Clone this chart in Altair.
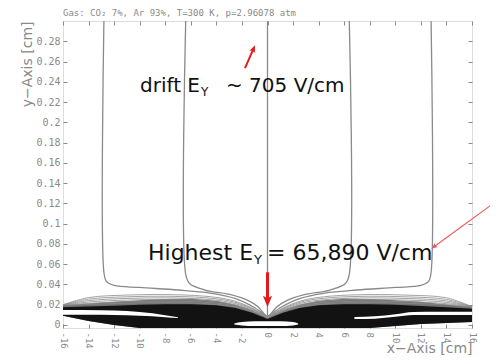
import altair as alt
import pandas as pd

# ---------------- axes ----------------
x_ticks = [-16, -14, -12, -10, -8, -6, -4, -2, 0, 2, 4, 6, 8, 10, 12, 14, 16]
y_ticks = [0, 0.02, 0.04, 0.06, 0.08, 0.10, 0.12, 0.14, 0.16, 0.18, 0.20,
           0.22, 0.24, 0.26, 0.28]
x_domain = [-16, 16]
y_domain = [-0.003, 0.30]

# ---------------- drift field lines ----------------
drift_a_x = [-12.8, -12.8, -12.6, -12.0, -10.0, -7.0, -4.5, -2.5, -1.0, 0.0]
drift_a_y = [0.300, 0.052, 0.043, 0.039, 0.037, 0.0345, 0.0315, 0.026, 0.017, 0.008]
drift_b_x = [-6.4, -6.4, -6.1, -4.9, -2.8, -1.5, -0.74, -0.2, 0.0]
drift_b_y = [0.300, 0.050, 0.041, 0.0345, 0.0296, 0.024, 0.018, 0.010, 0.008]
drift_c_x = [0.0, 0.0]
drift_c_y = [0.300, 0.008]
drift_d_x = [6.4, 6.4, 6.1, 4.9, 2.8, 1.5, 0.74, 0.2, 0.0]
drift_d_y = [0.300, 0.050, 0.041, 0.0345, 0.0296, 0.024, 0.018, 0.010, 0.008]
drift_e_x = [12.8, 12.8, 12.6, 12.0, 10.0, 7.0, 4.5, 2.5, 1.0, 0.0]
drift_e_y = [0.300, 0.052, 0.043, 0.039, 0.037, 0.0345, 0.0315, 0.026, 0.017, 0.008]

# ---------------- fan of field lines near the strips ----------------
fan_left_x = [-16, -14, -11, -8, -5, -3, -1.5, -0.5, 0]
fan_left_1 = [0.0200, 0.0270, 0.0295, 0.0300, 0.0285, 0.0250, 0.0185, 0.0118, 0.008]
fan_left_2 = [0.0199, 0.0255, 0.0278, 0.0283, 0.0270, 0.0238, 0.0177, 0.0114, 0.008]
fan_left_3 = [0.0198, 0.0240, 0.0262, 0.0267, 0.0255, 0.0225, 0.0169, 0.0110, 0.008]
fan_left_4 = [0.0197, 0.0226, 0.0246, 0.0251, 0.0240, 0.0212, 0.0160, 0.0106, 0.008]
fan_left_5 = [0.0196, 0.0213, 0.0230, 0.0235, 0.0225, 0.0200, 0.0152, 0.0102, 0.008]
fan_left_6 = [0.0195, 0.0202, 0.0215, 0.0220, 0.0212, 0.0188, 0.0144, 0.0098, 0.008]
fan_right_x = [16, 14, 11, 8, 5, 3, 1.5, 0.5, 0]
fan_right_1 = [0.0180, 0.0268, 0.0294, 0.0300, 0.0285, 0.0250, 0.0185, 0.0118, 0.008]
fan_right_2 = [0.0179, 0.0252, 0.0277, 0.0283, 0.0270, 0.0238, 0.0177, 0.0114, 0.008]
fan_right_3 = [0.0178, 0.0237, 0.0261, 0.0267, 0.0255, 0.0225, 0.0169, 0.0110, 0.008]
fan_right_4 = [0.0178, 0.0223, 0.0245, 0.0251, 0.0240, 0.0212, 0.0160, 0.0106, 0.008]
fan_right_5 = [0.0177, 0.0210, 0.0229, 0.0235, 0.0225, 0.0200, 0.0152, 0.0102, 0.008]
fan_right_6 = [0.0177, 0.0199, 0.0214, 0.0220, 0.0212, 0.0188, 0.0144, 0.0098, 0.008]

# ---------------- dense (dark) line region ----------------
band_x = [-16, -14, -12, -10, -8, -6, -4, -2.5, -1.2, 0, 1.2, 2.5, 4, 6, 8, 10, 12, 14, 16]
mid_top = [0.0195, 0.0212, 0.0230, 0.0245, 0.0255, 0.0258, 0.0240, 0.0200, 0.0145, 0.0070,
           0.0145, 0.0200, 0.0240, 0.0258, 0.0255, 0.0245, 0.0228, 0.0202, 0.0178]
dark_top = [0.0175, 0.0182, 0.0190, 0.0200, 0.0205, 0.0205, 0.0195, 0.0168, 0.0120, 0.0060,
            0.0120, 0.0168, 0.0195, 0.0205, 0.0205, 0.0200, 0.0188, 0.0175, 0.0160]
dark_bottom = [0.0092, 0.0040, 0.0000, -0.003, -0.003, -0.003, -0.003, -0.003, -0.003, -0.003,
               -0.003, -0.003, -0.003, -0.003, -0.003, -0.001, 0.0010, 0.0020, 0.0030]

# white gaps inside the dark region
gap_left_x = [-16, -13, -11, -9, -8, -7]
gap_left_top = [0.0148, 0.0146, 0.0138, 0.0115, 0.0095, 0.0075]
gap_left_bottom = [0.0102, 0.0100, 0.0095, 0.0085, 0.0075, 0.0068]
gap_right_x = [6.8, 8.4, 10, 11.4, 13.5, 16]
gap_right_top = [0.0079, 0.0085, 0.0105, 0.0128, 0.0131, 0.0131]
gap_right_bottom = [0.0060, 0.0062, 0.0080, 0.0098, 0.0099, 0.0099]
strip_x = [-2.6, -2.0, -1.0, 0.0, 1.0, 2.0, 2.4]
strip_top = [0.0015, 0.0030, 0.0036, 0.0037, 0.0036, 0.0030, 0.0015]
strip_bottom = [0.0005, -0.0005, -0.0010, -0.0010, -0.0010, -0.0005, 0.0005]

# ---------------- annotations ----------------
arrow_x = [-1.76, 0.0, 18.04]
arrow_y = [0.2535, 0.052, 0.1233]
arrow_x2 = [-1.10, 0.0, 13.03]
arrow_y2 = [0.2725, 0.0237, 0.0772]
arrow_angle = [23.5, 180, 233]
arrow_width = [2.0, 3.0, 1.1]
arrow_head = [60, 150, 45]
arrow_color = ["#e3191c", "#e3191c", "#f0585a"]

label_text = ["drift E", "Y", "~ 705 V/cm", "Highest E", "Y", "= 65,890 V/cm"]
label_x = [-9.977, -5.203, -3.247, -9.35, -1.056, -0.04]
label_y = [0.2298, 0.2258, 0.2298, 0.0641, 0.0602, 0.0641]
label_size = [20, 12, 20, 22, 13, 22]

header_text = ["Gas: CO\u2082 7%, Ar 93%, T=300 K, p=2.96078 atm"]
header_x = [-16.0]
header_y = [0.3049]

# ---------------- tables ----------------
def lines_table(named):
    rows = []
    for name, (xs, ys) in named.items():
        for i, (xv, yv) in enumerate(zip(xs, ys)):
            rows.append({"line": name, "order": i, "x": xv, "y": yv})
    return pd.DataFrame(rows)

drift_df = lines_table({
    "a": (drift_a_x, drift_a_y), "b": (drift_b_x, drift_b_y),
    "c": (drift_c_x, drift_c_y), "d": (drift_d_x, drift_d_y),
    "e": (drift_e_x, drift_e_y)})
fan_df = lines_table({
    "l1": (fan_left_x, fan_left_1), "l2": (fan_left_x, fan_left_2),
    "l3": (fan_left_x, fan_left_3), "l4": (fan_left_x, fan_left_4),
    "l5": (fan_left_x, fan_left_5), "l6": (fan_left_x, fan_left_6),
    "r1": (fan_right_x, fan_right_1), "r2": (fan_right_x, fan_right_2),
    "r3": (fan_right_x, fan_right_3), "r4": (fan_right_x, fan_right_4),
    "r5": (fan_right_x, fan_right_5), "r6": (fan_right_x, fan_right_6)})

mid_df = pd.DataFrame({"x": band_x, "top": mid_top, "bottom": dark_bottom})
dark_df = pd.DataFrame({"x": band_x, "top": dark_top, "bottom": dark_bottom})
gaps_df = pd.concat([
    pd.DataFrame({"g": "left", "x": gap_left_x, "top": gap_left_top, "bottom": gap_left_bottom}),
    pd.DataFrame({"g": "right", "x": gap_right_x, "top": gap_right_top, "bottom": gap_right_bottom}),
    pd.DataFrame({"g": "strip", "x": strip_x, "top": strip_top, "bottom": strip_bottom}),
])
arrows_df = pd.DataFrame({"x": arrow_x, "y": arrow_y, "x2": arrow_x2, "y2": arrow_y2,
                          "angle": arrow_angle, "w": arrow_width, "s": arrow_head,
                          "c": arrow_color})
labels_df = pd.DataFrame({"t": label_text, "x": label_x, "y": label_y, "s": label_size})
header_df = pd.DataFrame({"t": header_text, "x": header_x, "y": header_y})

xs = alt.Scale(domain=x_domain, nice=False, zero=False)
ys = alt.Scale(domain=y_domain, nice=False, zero=False)
GRAY = "#8a8a8a"

def xq(field="x", axis=None):
    return alt.X(f"{field}:Q", scale=xs, axis=axis)

def yq(field="y", axis=None):
    return alt.Y(f"{field}:Q", scale=ys, axis=axis)

bottom_axis = alt.Axis(orient="bottom", values=x_ticks, labelAngle=90,
                       labelExpr="toString(datum.value)",
                       labelFont="DejaVu Sans Mono", labelFontSize=9, labelColor=GRAY,
                       labelPadding=4, tickSize=4, tickColor=GRAY, offset=-4,
                       domain=False, grid=False, title="x\u2212Axis [cm]",
                       titleFont="DejaVu Sans", titleFontSize=14, titleFontWeight="normal",
                       titleColor=GRAY, titleX=409, titleY=28, titleAlign="right",
                       titleBaseline="alphabetic")
left_axis = alt.Axis(orient="left", values=y_ticks, format="~g", labelFont="DejaVu Sans Mono",
                     labelFontSize=10, labelColor=GRAY, labelPadding=3, tickSize=4,
                     tickColor=GRAY, offset=-4, domain=False, grid=False,
                     title="y\u2212Axis [cm]", titleFont="DejaVu Sans", titleFontSize=14,
                     titleFontWeight="normal", titleColor=GRAY, titleAngle=270,
                     titleX=-40, titleY=0, titleAlign="right", titleBaseline="middle")
top_axis = alt.Axis(orient="top", values=x_ticks, labels=False, tickSize=4,
                    tickColor=GRAY, offset=-4, domain=False, grid=False, title=None)
right_axis = alt.Axis(orient="right", values=y_ticks, labels=False, tickSize=4,
                      tickColor=GRAY, offset=-4, domain=False, grid=False, title=None)

mid = alt.Chart(mid_df).mark_area(color="#727272").encode(
    x=xq(), y=yq("top"), y2="bottom")
dark = alt.Chart(dark_df).mark_area(color="#121212").encode(
    x=xq(), y=yq("top"), y2="bottom")
gaps = alt.Chart(gaps_df).mark_area(color="white", interpolate="monotone").encode(
    x=xq(), y=yq("top"), y2="bottom", detail="g:N")
fans = alt.Chart(fan_df).mark_line(color="#8c8c8c", strokeWidth=0.8,
                                   interpolate="catmull-rom").encode(
    x=xq(axis=top_axis), y=yq(axis=right_axis), detail="line:N", order="order:Q")
drift = alt.Chart(drift_df).mark_line(color=GRAY, strokeWidth=1.3,
                                      interpolate="catmull-rom").encode(
    x=xq(axis=bottom_axis), y=yq(axis=left_axis), detail="line:N", order="order:Q")
shafts = alt.Chart(arrows_df).mark_rule().encode(
    x=xq(), y=yq(), x2="x2", y2="y2",
    color=alt.Color("c:N", scale=None), strokeWidth=alt.StrokeWidth("w:Q", scale=None))
heads = alt.Chart(arrows_df).mark_point(
    shape="M0,-1L0.75,0.85L0,0.45L-0.75,0.85Z", filled=True, opacity=1).encode(
    x=xq("x2"), y=yq("y2"), angle=alt.Angle("angle:Q", scale=None),
    size=alt.Size("s:Q", scale=None), color=alt.Color("c:N", scale=None))
labels = alt.Chart(labels_df).mark_text(align="left", baseline="alphabetic",
                                        font="DejaVu Sans", color="#111").encode(
    x=xq(), y=yq(), text="t:N", size=alt.Size("s:Q", scale=None))
header = alt.Chart(header_df).mark_text(align="left", baseline="alphabetic",
                                        font="DejaVu Sans Mono", fontSize=9,
                                        color=GRAY).encode(
    x=xq(), y=yq(), text="t:N")

chart = alt.layer(mid, dark, gaps, fans, drift, shafts, heads, labels, header).resolve_axis(
    x="independent", y="independent").properties(
    width=409, height=307,
    autosize=alt.AutoSizeParams(type="none"),
    padding={"left": 55, "top": 13, "right": 18, "bottom": 28},
).configure_view(stroke="#9a9a9a", strokeWidth=1.2).configure(background="white")

chart.save("out.html", embed_options={"renderer": "svg", "actions": False})
